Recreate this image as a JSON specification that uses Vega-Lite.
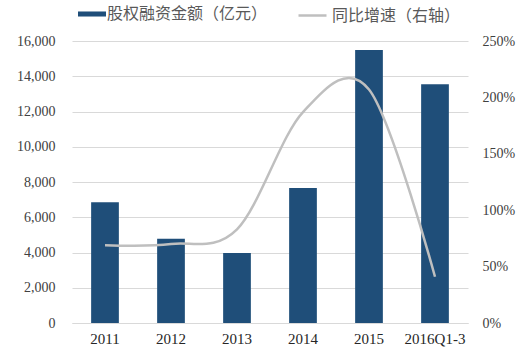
{
  "$schema": "https://vega.github.io/schema/vega-lite/v6.json",
  "width": 396,
  "height": 282,
  "autosize": {"type": "none"},
  "padding": {"left": 72, "top": 41, "right": 53, "bottom": 30},
  "background": "#ffffff",
  "data": {
    "values": [
      {"year": "2011", "amount": 6850, "growth": 0.69},
      {"year": "2012", "amount": 4780, "growth": 0.70},
      {"year": "2013", "amount": 3970, "growth": 0.83},
      {"year": "2014", "amount": 7660, "growth": 1.87},
      {"year": "2015", "amount": 15490, "growth": 2.07},
      {"year": "2016Q1-3", "amount": 13550, "growth": 0.41}
    ]
  },
  "config": {
    "view": {"stroke": null},
    "axis": {"labelFont": "Liberation Serif", "labelColor": "#404040", "ticks": false, "title": null}
  },
  "encoding": {
    "x": {
      "field": "year",
      "type": "nominal",
      "sort": null,
      "scale": {"paddingInner": 0.58, "paddingOuter": 0.29},
      "axis": {"labelAngle": 0, "labelFontSize": 15, "labelPadding": 8, "domainColor": "#D9D9D9", "domainWidth": 1, "grid": false, "labelColor": "#262626"}
    }
  },
  "layer": [
    {
      "mark": {"type": "bar", "color": "#1F4E79"},
      "encoding": {
        "y": {
          "field": "amount",
          "type": "quantitative",
          "scale": {"domain": [0, 16000]},
          "axis": {"values": [0, 2000, 4000, 6000, 8000, 10000, 12000, 14000, 16000], "format": ",.0f", "labelFontSize": 14, "labelPadding": 17, "domain": false, "grid": true, "gridColor": "#D9D9D9", "gridWidth": 1, "orient": "left"}
        },
        "fill": {
          "datum": "股权融资金额（亿元）",
          "scale": {"range": ["#1F4E79"]},
          "legend": {
            "orient": "none", "legendX": 6, "legendY": -41, "title": null, "padding": 0,
            "symbolType": "M-1,-0.18H1V0.18H-1Z", "symbolSize": 784, "symbolStrokeWidth": 0,
            "labelFont": "Noto Sans CJK SC", "labelFontSize": 16, "labelColor": "#595959", "labelOffset": 1, "labelLimit": 300
          }
        }
      }
    },
    {
      "mark": {"type": "line", "color": "#BFBFBF", "strokeWidth": 2.5, "interpolate": "cardinal", "tension": 0},
      "encoding": {
        "y": {
          "field": "growth",
          "type": "quantitative",
          "scale": {"domain": [0, 2.5]},
          "axis": {"values": [0, 0.5, 1, 1.5, 2, 2.5], "format": ".0%", "labelFontSize": 14, "labelPadding": 14, "domain": false, "grid": false, "orient": "right"}
        },
        "stroke": {
          "datum": "同比增速（右轴）",
          "scale": {"range": ["#BFBFBF"]},
          "legend": {
            "orient": "none", "legendX": 225, "legendY": -41, "title": null, "padding": 0,
            "symbolType": "stroke", "symbolSize": 784, "symbolStrokeWidth": 2.5,
            "labelFont": "Noto Sans CJK SC", "labelFontSize": 16, "labelColor": "#595959", "labelOffset": 4, "labelLimit": 300
          }
        }
      }
    }
  ],
  "resolve": {"scale": {"y": "independent"}}
}
